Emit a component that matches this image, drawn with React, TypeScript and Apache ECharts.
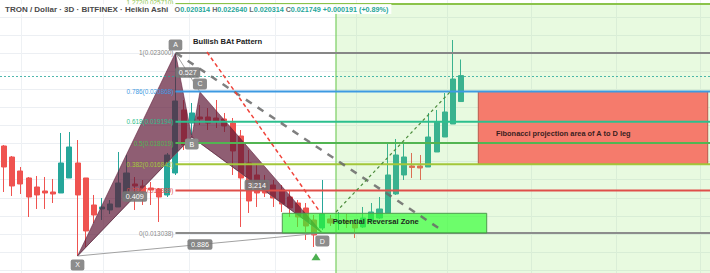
import React, { useEffect, useRef } from 'react';
import * as echarts from 'echarts';

const W = 710;
const H = 273;
const FONT = '"Liberation Sans", Arial, sans-serif';

// price scale (visible range of the screenshot)
const Y_MIN = 0.0108243;
const Y_MAX = 0.0259332;
const SLOT_COUNT = 87; // candle slots across the full width (57 drawn + empty future)
const CATEGORIES = Array.from({ length: SLOT_COUNT }, (_, i) => String(i));

// Heikin Ashi candles: [open, close, low, high]
const CANDLES: number[][] = [
  [0.017853, 0.016691, 0.015308, 0.017909],
  [0.017245, 0.015640, 0.015086, 0.017300],
  [0.016470, 0.015750, 0.015197, 0.016691],
  [0.016083, 0.015031, 0.013924, 0.016138],
  [0.015584, 0.015142, 0.014367, 0.016193],
  [0.015363, 0.015252, 0.014367, 0.016138],
  [0.015308, 0.015197, 0.014699, 0.016027],
  [0.015252, 0.016913, 0.015252, 0.018573],
  [0.016083, 0.017798, 0.016083, 0.018628],
  [0.016913, 0.015142, 0.011766, 0.018185],
  [0.016083, 0.013150, 0.012264, 0.016083],
  [0.014588, 0.014035, 0.013592, 0.015142],
  [0.014367, 0.014478, 0.013758, 0.014976],
  [0.014312, 0.014644, 0.014090, 0.014865],
  [0.014478, 0.015806, 0.014478, 0.017521],
  [0.015031, 0.016359, 0.014865, 0.017355],
  [0.015750, 0.015640, 0.014312, 0.016138],
  [0.015640, 0.015308, 0.014588, 0.015972],
  [0.015529, 0.015418, 0.014588, 0.015861],
  [0.015474, 0.015031, 0.013648, 0.015529],
  [0.015142, 0.017355, 0.015031, 0.017466],
  [0.016359, 0.020344, 0.016249, 0.023000],
  [0.019846, 0.017909, 0.017632, 0.020399],
  [0.019126, 0.019680, 0.018462, 0.020233],
  [0.019458, 0.019348, 0.019016, 0.020122],
  [0.019458, 0.019126, 0.018739, 0.019956],
  [0.019403, 0.019237, 0.018850, 0.020399],
  [0.019348, 0.018960, 0.018628, 0.019680],
  [0.019126, 0.017577, 0.016249, 0.019403],
  [0.018407, 0.016083, 0.013371, 0.018739],
  [0.016913, 0.014810, 0.014146, 0.017632],
  [0.016249, 0.015252, 0.014478, 0.016802],
  [0.015861, 0.015252, 0.015031, 0.016249],
  [0.015695, 0.014976, 0.014478, 0.015972],
  [0.015418, 0.014644, 0.014201, 0.015695],
  [0.015031, 0.014422, 0.013924, 0.015418],
  [0.014699, 0.013924, 0.013371, 0.014865],
  [0.014422, 0.013426, 0.012652, 0.014699],
  [0.013758, 0.012928, 0.012264, 0.014035],
  [0.013316, 0.014090, 0.013205, 0.015972],
  [0.013814, 0.013592, 0.013426, 0.014035],
  [0.013592, 0.013703, 0.013205, 0.014201],
  [0.013703, 0.013592, 0.013316, 0.014090],
  [0.013537, 0.013316, 0.012762, 0.013758],
  [0.013371, 0.013869, 0.013316, 0.014478],
  [0.013703, 0.014201, 0.013648, 0.014699],
  [0.013869, 0.014367, 0.013814, 0.015031],
  [0.014146, 0.016249, 0.014146, 0.018019],
  [0.015197, 0.017355, 0.015142, 0.018241],
  [0.016249, 0.017245, 0.015972, 0.018019],
  [0.016747, 0.016664, 0.016083, 0.017466],
  [0.016747, 0.016636, 0.015972, 0.017355],
  [0.016691, 0.018351, 0.016691, 0.019680],
  [0.017521, 0.019182, 0.017521, 0.019846],
  [0.018351, 0.019735, 0.018351, 0.020786],
  [0.019071, 0.021561, 0.019071, 0.023719],
  [0.020314, 0.021749, 0.020314, 0.022640],
];

// header
const TITLE = 'TRON / Dollar · 3D · BITFINEX · Heikin Ashi';
const OHLC_LABELS = ['O', 'H', 'L', 'C'];
const OHLC_VALUES = ['0.020314', '0.022640', '0.020314', '0.021749'];
const CHANGE_TEXT = '+0.000191 (+0.89%)';
const LAST_CLOSE = 0.021749;

// grid
const GRID_PRICES = [0.011, 0.012, 0.013, 0.014, 0.015, 0.016, 0.017, 0.018, 0.019, 0.020, 0.021, 0.022, 0.023, 0.024, 0.025];
const GRID_SLOTS = [2.07, 12.12, 22.6, 33.2, 43.1, 54.3, 64.6, 75.0, 85.3];

// Fibonacci retracement
const FIB_LEVELS = ['1.272', '1', '0.786', '0.618', '0.5', '0.382', '0.236', '0'];
const FIB_PRICES = [0.02571, 0.023, 0.020868, 0.019194, 0.018019, 0.016843, 0.015389, 0.013038];
const FIB_COLORS = ['#8bc34a', '#878787', '#3d9ae2', '#2cbf8e', '#52b552', '#a3c73a', '#df4f4a', '#8c8c8c'];
const FIB_START_SLOT = 21;

// XABCD pattern
const PATTERN_NAMES = ['X', 'A', 'B', 'C', 'D'];
const PATTERN_SLOTS = [9, 21, 23, 24, 39];
const PATTERN_PRICES = [0.011766, 0.023, 0.018351, 0.020842, 0.013038];
const RATIO_TEXTS = ['0.409', '0.527', '3.214', '0.886'];
const RATIO_LEGS = [[0, 2], [1, 3], [2, 4], [0, 4]];

// drawn trend lines: [slot1, price1, slot2, price2]
const GRAY_TREND = [21.07, 0.023, 53.42, 0.01326];
const RED_TREND = [24.86, 0.023055, 38.71, 0.014201];
const GREEN_TREND = [40.67, 0.014201, 54.64, 0.020842];

// zones: [slotLeft, priceTop, slotRight, priceBottom]
const GREEN_REGION = [40.67, 0.02571, 86.5, Y_MIN];
const PROJECTION_ZONE = [58.11, 0.020868, 86.22, 0.016843];
const REVERSAL_ZONE = [34.09, 0.014128, 59.14, 0.013038];

// texts
const PATTERN_TITLE = { text: 'Bullish BAt Pattern', slot: 23.15, price: 0.023664 };
const PRZ_TEXT = { text: 'Potential Reversal Zone', slot: 40.27, price: 0.01366 };
const PROJ_TEXT = { text: 'Fibonacci projection area of A to D leg', slot: 60.28, price: 0.018563 };
const MARKER = { slot: 38.22, price: 0.011692 };

export default function App() {
  const ref = useRef<HTMLDivElement>(null);

  useEffect(() => {
    document.body.style.margin = '0';
    const chart = echarts.init(ref.current!, null, { renderer: 'svg' });
    const P = (api: any, s: number, p: number): number[] => api.coord([s, p]);

    const custom = (z: number, build: (api: any) => any[]) => ({
      type: 'custom',
      xAxisIndex: 1,
      yAxisIndex: 0,
      z,
      silent: true,
      clip: false,
      data: [[0, Y_MIN]],
      renderItem: (_p: any, api: any) => ({ type: 'group', children: build(api) }),
    });

    const seg = (api: any, s1: number, p1: number, s2: number, p2: number, style: any) => {
      const a = P(api, s1, p1);
      const b = P(api, s2, p2);
      return { type: 'line', shape: { x1: a[0], y1: a[1], x2: b[0], y2: b[1] }, style };
    };

    const rectOf = (api: any, z: number[], style: any) => {
      const a = P(api, z[0], z[1]);
      const b = P(api, z[2], z[3]);
      return { type: 'rect', shape: { x: a[0], y: a[1], width: b[0] - a[0], height: b[1] - a[1] }, style };
    };

    const gridSeries = custom(1, (api) => [
      ...GRID_PRICES.map((p) => {
        const a = P(api, -0.5, p);
        const y = Math.round(a[1]) + 0.5;
        return { type: 'line', shape: { x1: 0, y1: y, x2: W, y2: y }, style: { stroke: '#eceff3', lineWidth: 1 } };
      }),
      ...GRID_SLOTS.map((s) => {
        const a = P(api, s, Y_MAX);
        const x = Math.round(a[0]) + 0.5;
        return { type: 'line', shape: { x1: x, y1: 0, x2: x, y2: H }, style: { stroke: '#eef1f4', lineWidth: 1 } };
      }),
    ]);

    const regionSeries = custom(3, (api) => {
      const a = P(api, GREEN_REGION[0], GREEN_REGION[1]);
      return [
        rectOf(api, GREEN_REGION, { fill: 'rgba(140,228,100,0.2)' }),
        { type: 'line', shape: { x1: a[0], y1: a[1], x2: a[0], y2: H }, style: { stroke: 'rgba(120,205,95,0.6)', lineWidth: 2 } },
        rectOf(api, PROJECTION_ZONE, { fill: '#f57b6c', stroke: '#b9584c', lineWidth: 1 }),
      ];
    });

    const pts = (api: any, idx: number[]) => idx.map((k) => P(api, PATTERN_SLOTS[k], PATTERN_PRICES[k]));

    const patternSeries = custom(4, (api) => {
      const thin = { stroke: '#a2a2a2', lineWidth: 1 };
      const legs = RATIO_LEGS.map(([i, j]) =>
        seg(api, PATTERN_SLOTS[i], PATTERN_PRICES[i], PATTERN_SLOTS[j], PATTERN_PRICES[j], thin)
      );
      const fill = { fill: 'rgba(95,25,55,0.7)', stroke: 'rgba(95,25,55,0.55)', lineWidth: 1 };
      return [
        ...legs,
        { type: 'polygon', shape: { points: pts(api, [0, 1, 2]) }, style: fill },
        { type: 'polygon', shape: { points: pts(api, [2, 3, 4]) }, style: fill },
      ];
    });

    const fibSeries = custom(5, (api) => {
      const out: any[] = [];
      const c = P(api, -0.5, LAST_CLOSE);
      const cy = Math.round(c[1]) + 0.5;
      out.push({ type: 'line', shape: { x1: 0, y1: cy, x2: W, y2: cy }, style: { stroke: 'rgba(38,166,154,0.8)', lineWidth: 1, lineDash: [2, 2] } });
      FIB_LEVELS.forEach((lv, i) => {
        const a = P(api, FIB_START_SLOT, FIB_PRICES[i]);
        const b = P(api, 86.5, FIB_PRICES[i]);
        out.push({ type: 'line', shape: { x1: a[0], y1: a[1], x2: b[0], y2: b[1] }, style: { stroke: FIB_COLORS[i], lineWidth: 2 } });
        out.push({
          type: 'text', x: a[0] - 2, y: i === 0 ? a[1] - 1.5 : a[1],
          style: { text: `${lv}(${FIB_PRICES[i].toFixed(6)})`, fill: FIB_COLORS[i], font: `6.4px ${FONT}`, align: 'right', verticalAlign: 'middle' },
        });
      });
      return out;
    });

    const annotSeries = custom(6, (api) => {
      const t = (o: any, font: string, fill: string) => {
        const a = P(api, o.slot, o.price);
        return { type: 'text', x: a[0], y: a[1], style: { text: o.text, fill, font, align: 'left', verticalAlign: 'middle' } };
      };
      const m = P(api, MARKER.slot, MARKER.price);
      return [
        rectOf(api, REVERSAL_ZONE, { fill: 'rgba(45,255,45,0.66)', stroke: '#4f9a4f', lineWidth: 1 }),
        seg(api, GRAY_TREND[0], GRAY_TREND[1], GRAY_TREND[2], GRAY_TREND[3], { stroke: 'rgba(105,105,105,0.85)', lineWidth: 2.5, lineDash: [7, 7] }),
        seg(api, RED_TREND[0], RED_TREND[1], RED_TREND[2], RED_TREND[3], { stroke: '#f0433a', lineWidth: 1.5, lineDash: [4, 3] }),
        seg(api, GREEN_TREND[0], GREEN_TREND[1], GREEN_TREND[2], GREEN_TREND[3], { stroke: '#4c8c3c', lineWidth: 1.2, lineDash: [3, 3] }),
        t(PATTERN_TITLE, `bold 7.6px ${FONT}`, '#222'),
        t(PRZ_TEXT, `bold 7.6px ${FONT}`, '#1d2a1d'),
        t(PROJ_TEXT, `bold 7.4px ${FONT}`, '#3a1e1e'),
        { type: 'polygon', shape: { points: [[m[0], m[1] - 4], [m[0] - 4.5, m[1] + 3], [m[0] + 4.5, m[1] + 3]] }, style: { fill: '#4caf50' } },
      ];
    });

    const LABEL_OFFSETS = [9, -8, 7, -8, 8];
    const labelSeries = custom(7, (api) => {
      const out: any[] = [];
      PATTERN_NAMES.forEach((n, k) => {
        const a = P(api, PATTERN_SLOTS[k], PATTERN_PRICES[k]);
        out.push({
          type: 'text', x: a[0], y: a[1] + LABEL_OFFSETS[k],
          style: { text: n, fill: '#fff', font: `7px ${FONT}`, align: 'center', verticalAlign: 'middle', backgroundColor: '#8c8c8c', padding: [2, 4.5, 2, 4.5], borderRadius: 2 },
        });
      });
      RATIO_LEGS.forEach(([i, j], k) => {
        const a = P(api, (PATTERN_SLOTS[i] + PATTERN_SLOTS[j]) / 2, (PATTERN_PRICES[i] + PATTERN_PRICES[j]) / 2);
        out.push({
          type: 'text', x: a[0], y: a[1],
          style: { text: RATIO_TEXTS[k], fill: '#fff', font: `7.2px ${FONT}`, align: 'center', verticalAlign: 'middle', backgroundColor: 'rgba(118,118,118,0.88)', padding: [2, 3.5, 1.5, 3.5], borderRadius: 2 },
        });
      });
      return out;
    });

    const titleText =
      `{t|${TITLE}}   ` +
      OHLC_LABELS.map((l, i) => `{l|${l}}{v|${OHLC_VALUES[i]}}`).join(' ') +
      ` {v|${CHANGE_TEXT}}`;

    chart.setOption({
      animation: false,
      backgroundColor: '#ffffff',
      title: {
        text: titleText,
        left: 2,
        top: 4,
        padding: [1, 3, 1, 3],
        backgroundColor: 'rgba(255,255,255,0.88)',
        z: 20,
        textStyle: {
          fontSize: 7.2,
          fontFamily: FONT,
          rich: {
            t: { fontSize: 8, color: '#4a4a4a', fontFamily: FONT },
            l: { fontSize: 7.2, color: '#6c6c6c', fontFamily: FONT },
            v: { fontSize: 7.2, color: '#26a69a', fontFamily: FONT },
          },
        },
      },
      grid: { left: 0, right: 0, top: 0, bottom: 0 },
      xAxis: [
        { type: 'category', data: CATEGORIES, show: false, boundaryGap: true },
        { type: 'value', min: -0.5, max: SLOT_COUNT - 0.5, show: false },
      ],
      yAxis: { type: 'value', min: Y_MIN, max: Y_MAX, show: false, splitLine: { show: false } },
      series: [
        gridSeries,
        {
          type: 'candlestick',
          xAxisIndex: 0,
          yAxisIndex: 0,
          z: 2,
          silent: true,
          barWidth: '68%',
          data: CANDLES,
          itemStyle: { color: '#26a69a', color0: '#ef5350', borderColor: '#26a69a', borderColor0: '#ef5350', borderWidth: 1 },
        },
        regionSeries,
        patternSeries,
        fibSeries,
        annotSeries,
        labelSeries,
      ],
    });

    return () => chart.dispose();
  }, []);

  return <div ref={ref} style={{ position: 'fixed', left: 0, top: 0, width: W, height: H }} />;
}
